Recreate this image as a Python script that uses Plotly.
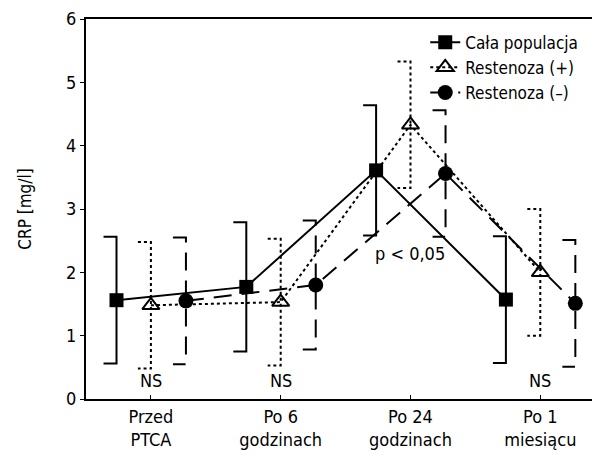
import plotly.graph_objects as go

categories = ["Przed<br>PTCA", "Po 6<br>godzinach", "Po 24<br>godzinach", "Po 1<br>miesiącu"]
cala = [1.56, 1.77, 3.61, 1.57]
cala_err = [1.0, 1.02, 1.03, 1.0]
rest_plus = [1.48, 1.53, 4.33, 2.0]
rest_plus_err = [1.0, 1.0, 1.0, 1.0]
rest_minus = [1.55, 1.8, 3.56, 1.51]
rest_minus_err = [1.0, 1.02, 1.0, 1.0]
annot_ns = [(0, "NS"), (1, "NS"), (3, "NS")]
annot_p = (2, 2.3, "p < 0,05")

FONT = "DejaVu Sans Condensed, Liberation Sans Narrow, Arial Narrow, sans-serif"
offsets = [-0.265, 0.0, 0.27]
cap = 0.1

series = [
    ("Cała populacja", cala, cala_err, "solid", dict(symbol="square", size=14, color="black")),
    ("Restenoza (+)", rest_plus, rest_plus_err, "dot",
     dict(symbol="triangle-up-open", size=15, color="black", line=dict(width=2, color="black"))),
    ("Restenoza (–)", rest_minus, rest_minus_err, "18px,10px", dict(symbol="circle", size=15, color="black")),
]

fig = go.Figure()
for (name, vals, errs, dash, mk), off in zip(series, offsets):
    xs = [i + off for i in range(len(vals))]
    bx, by = [], []
    for x, v, e in zip(xs, vals, errs):
        bx += [x - cap, x, x, x - cap, None]
        by += [v + e, v + e, v - e, v - e, None]
    fig.add_trace(go.Scatter(x=bx, y=by, mode="lines", showlegend=False,
                             line=dict(color="black", width=2, dash=dash), hoverinfo="skip"))
    fig.add_trace(go.Scatter(x=xs, y=vals, mode="lines+markers", name=name,
                             line=dict(color="black", width=2, dash=dash), marker=mk))

for i, t in annot_ns:
    fig.add_annotation(x=i, y=0.3, text=t, showarrow=False, font=dict(size=18, color="black", family=FONT))
fig.add_annotation(x=annot_p[0], y=annot_p[1], text=annot_p[2], showarrow=False,
                   font=dict(size=18, color="black", family=FONT))

fig.update_layout(
    width=600, height=455,
    margin=dict(l=78, r=8, t=11, b=64),
    plot_bgcolor="white", paper_bgcolor="white",
    font=dict(family=FONT, size=18, color="black"),
    legend=dict(x=0.66, y=0.985, xanchor="left", yanchor="top", bgcolor="rgba(0,0,0,0)",
                font=dict(size=17), itemwidth=30, tracegroupgap=0),
    xaxis=dict(range=[-0.5, 3.46], tickvals=list(range(len(categories))), ticktext=categories,
               showgrid=False, zeroline=False, showline=True, linecolor="black", linewidth=2,
               mirror=True, ticks="inside", ticklen=4, tickcolor="black", tickfont=dict(size=18),
               automargin=False),
    yaxis=dict(range=[0, 6], tickvals=[0, 1, 2, 3, 4, 5, 6], showgrid=False, zeroline=False,
               showline=True, linecolor="black", linewidth=2, ticks="outside", ticklen=4,
               tickcolor="black", tickfont=dict(size=18), automargin=False,
               ticklabeloverflow="allow",
               title=dict(text="CRP [mg/l]", font=dict(size=17), standoff=30)),
)

fig.write_html("out.html")
